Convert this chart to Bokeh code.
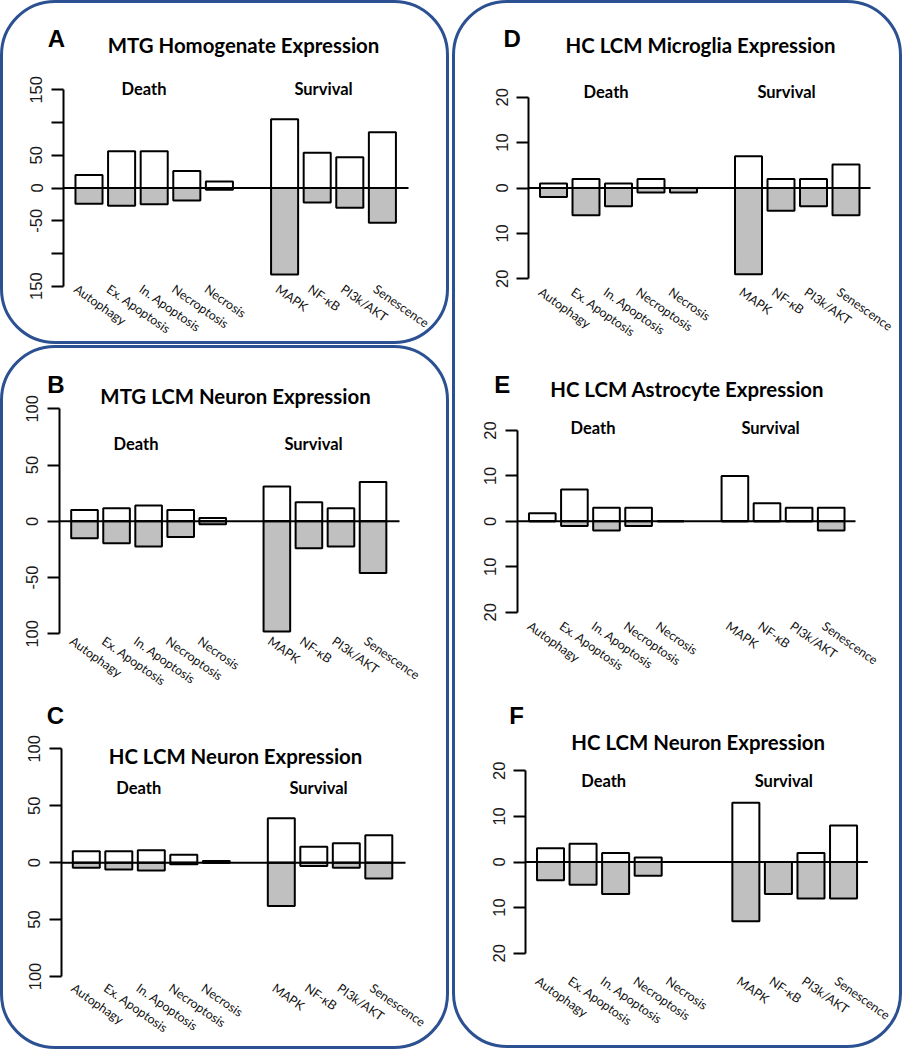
from bokeh.plotting import figure
from bokeh.models import Range1d, FixedTicker, Label, LabelSet, ColumnDataSource, Column, Row
from bokeh.core.properties import value
from bokeh.embed import file_html
from bokeh.resources import INLINE

categories = ["Autophagy", "Ex. Apoptosis", "In. Apoptosis", "Necroptosis", "Necrosis",
              "MAPK", "NF-\u03baB", "PI3k/AKT", "Senescence"]
groups = ["Death"] * 5 + ["Survival"] * 4
slots = [0, 1, 2, 3, 4, 6, 7, 8, 9]

# panel values (up = white bars, down = grey bars, magnitudes)
a_up = [20, 56, 56, 26, 10, 105, 54, 47, 85]
a_down = [24, 27, 25, 19, 2.5, 132, 22, 30, 53]
b_up = [10, 11.5, 14, 10, 3, 31, 17, 11.5, 35]
b_down = [15, 19.5, 22.5, 14, 2.7, 98, 24, 22.5, 46]
c_up = [10, 10, 11, 7, 1.5, 39, 14, 17, 24]
c_down = [4.4, 6, 7, 1.5, 0, 38, 3, 4.4, 14]
d_up = [1, 2, 1, 2, 0, 7, 2, 2, 5.2]
d_down = [2, 6, 4, 1, 1, 19, 5, 4, 6]
e_up = [1.8, 7, 3, 3, 0, 10, 4, 3, 3]
e_down = [0, 1, 2, 1, 0, 0, 0, 0, 2]
f_up = [3, 4, 2, 1, 0, 13, 0, 2, 8]
f_down = [4, 5, 7, 3, 0, 13, 7, 8, 8]

ticks_150 = [-150, -100, -50, 0, 50, 100, 150]
labels_a = ["150", "", "-50", "0", "50", "", "150"]
ticks_100 = [-100, -50, 0, 50, 100]
labels_b = ["100", "-50", "0", "50", "100"]
labels_c = ["100", "50", "0", "50", "100"]
ticks_20 = [-20, -10, 0, 10, 20]
labels_20 = ["20", "10", "0", "10", "20"]

panels = dict(
    A=dict(letter="A", title="MTG Homogenate Expression", up=a_up, down=a_down, M=150,
           ticks=ticks_150, tlabels=labels_a, ox=3, oy=3, W=443, H=338,
           axis=63, yt=89.3, yb=285.7, slot0=88.5, pitch=32.6, right=408,
           lt=(56, 38), tt=(243, 44), de=(143.5, 88), su=(323, 88), ly=281),
    B=dict(letter="B", title="MTG LCM Neuron Expression", up=b_up, down=b_down, M=100,
           ticks=ticks_100, tlabels=labels_b, ox=3, oy=348, W=443, H=342,
           axis=59, yt=408.3, yb=633.3, slot0=84, pitch=32.06, right=399,
           lt=(55.5, 383.5), tt=(235, 395), de=(135.5, 443), su=(313, 443), ly=633),
    C=dict(letter="C", title="HC LCM Neuron Expression", up=c_up, down=c_down, M=100,
           ticks=ticks_100, tlabels=labels_c, ox=3, oy=690, W=443, H=356,
           axis=61, yt=748.3, yb=976, slot0=85.8, pitch=32.5, right=405,
           lt=(55, 715), tt=(235, 755), de=(138.3, 787.5), su=(318, 787.5), ly=980),
    D=dict(letter="D", title="HC LCM Microglia Expression", up=d_up, down=d_down, M=20,
           ticks=ticks_20, tlabels=labels_20, ox=455, oy=3, W=444, H=337,
           axis=528.3, yt=96.7, yb=278.3, slot0=553, pitch=32.5, right=870,
           lt=(511.7, 38.3), tt=(700, 44), de=(605.6, 91.5), su=(786, 91.5), ly=284),
    E=dict(letter="E", title="HC LCM Astrocyte Expression", up=e_up, down=e_down, M=20,
           ticks=ticks_20, tlabels=labels_20, ox=455, oy=340, W=444, H=340,
           axis=516.7, yt=430, yb=611.7, slot0=541.8, pitch=32.1, right=855,
           lt=(501.7, 383.7), tt=(686.7, 388.3), de=(592.5, 427.5), su=(770, 427.5), ly=618),
    F=dict(letter="F", title="HC LCM Neuron Expression", up=f_up, down=f_down, M=20,
           ticks=ticks_20, tlabels=labels_20, ox=455, oy=680, W=444, H=365,
           axis=525.3, yt=770.3, yb=952.7, slot0=550, pitch=32.56, right=867.3,
           lt=(516, 715.3), tt=(697.7, 741.3), de=(603.2, 780), su=(783.3, 780), ly=973),
)

TITLE_FONT = "Lato"
LABEL_FONT = "Lato"
AXIS_FONT = "Liberation Sans"


def make_panel(c):
    W, H, ox, oy, M = c["W"], c["H"], c["ox"], c["oy"], c["M"]
    top = c["yt"] - oy
    bot = c["yb"] - oy
    s = (bot - top) / (2.0 * M)

    def dx(xr):
        return (xr - c["slot0"]) / c["pitch"]

    def dy(yr):
        return M - ((yr - oy) - top) / s

    p = figure(width=W, height=H, x_range=Range1d(dx(ox), dx(ox + W)),
               y_range=Range1d(dy(oy + H), dy(oy)),
               output_backend="svg", toolbar_location=None,
               min_border_left=0, min_border_right=0, min_border_top=0, min_border_bottom=0,
               background_fill_color=None, border_fill_color=None, outline_line_color=None)
    p.xaxis.visible = False
    p.grid.visible = False

    ya = p.yaxis[0]
    ya.fixed_location = dx(c["axis"])
    ya.bounds = (-M, M)
    ya.ticker = FixedTicker(ticks=c["ticks"])
    ya.major_label_overrides = {t: l for t, l in zip(c["ticks"], c["tlabels"])}
    ya.axis_line_width = 2
    ya.axis_line_color = "black"
    ya.major_tick_line_width = 2
    ya.major_tick_line_color = "black"
    ya.major_tick_out = 12
    ya.major_tick_in = 0
    ya.minor_tick_line_color = None
    ya.major_label_orientation = "vertical"
    ya.major_label_text_font = AXIS_FONT
    ya.major_label_text_font_size = "16.5px"
    ya.major_label_text_color = "#1a1a1a"
    ya.major_label_standoff = 9

    src = ColumnDataSource(dict(x=slots, up=c["up"], down=[-v for v in c["down"]]))
    p.vbar(x="x", top="up", bottom=0, width=0.83, source=src,
           fill_color="white", line_color="black", line_width=2)
    p.vbar(x="x", top=0, bottom="down", width=0.83, source=src,
           fill_color="#c0c0c0", line_color="black", line_width=2)
    p.segment(x0=[dx(c["axis"])], y0=[0], x1=[dx(c["right"])], y1=[0],
              line_color="black", line_width=2)

    lx = [sl + (-0.28 if g == "Death" else -0.10) for sl, g in zip(slots, groups)]
    lsrc = ColumnDataSource(dict(x=lx, y=[dy(c["ly"])] * len(lx), t=categories))
    p.add_layout(LabelSet(x="x", y="y", text="t", source=lsrc, angle=-35, angle_units="deg",
                          text_align="left", text_baseline="top",
                          text_font=value(LABEL_FONT), text_font_size=value("12.5px"),
                          text_color="#111111"))

    p.add_layout(Label(x=dx(c["lt"][0]), y=dy(c["lt"][1]), text=c["letter"],
                       text_align="center", text_baseline="middle",
                       text_font="Liberation Sans", text_font_style="bold",
                       text_font_size="24px", text_color="black"))
    p.add_layout(Label(x=dx(c["tt"][0]), y=dy(c["tt"][1]), text=c["title"],
                       text_align="center", text_baseline="middle",
                       text_font=TITLE_FONT, text_font_style="bold",
                       text_font_size="20.4px", text_color="black"))
    for key, name in (("de", "Death"), ("su", "Survival")):
        p.add_layout(Label(x=dx(c[key][0]), y=dy(c[key][1]), text=name,
                           text_align="center", text_baseline="middle",
                           text_font=TITLE_FONT, text_font_style="bold",
                           text_font_size="16.5px", text_color="black"))
    return p


figs = {k: make_panel(v) for k, v in panels.items()}

box_style = {"border": "3px solid #2c5192", "border-radius": "55px"}
colA = Column(children=[figs["A"]], styles=box_style)
colBC = Column(children=[figs["B"], figs["C"]], styles=box_style)
colDEF = Column(children=[figs["D"], figs["E"], figs["F"]], styles=box_style)
left = Column(children=[colA, colBC], spacing=1)
root = Row(children=[left, colDEF], spacing=3)

open("out.html", "w").write(file_html(root, INLINE))
